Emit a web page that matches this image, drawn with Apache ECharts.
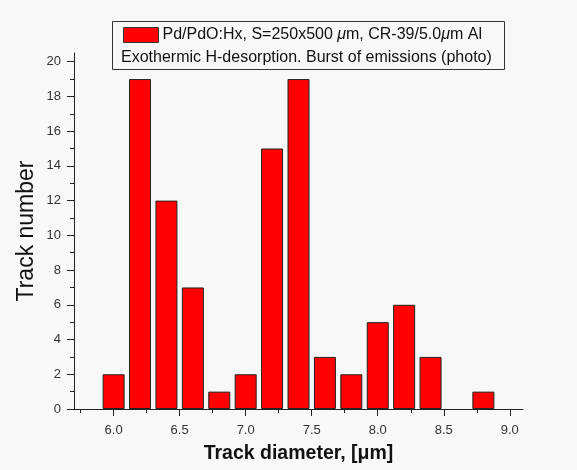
<!DOCTYPE html>
<html>
<head>
<meta charset="utf-8">
<script src="https://cdn.jsdelivr.net/npm/echarts@6/dist/echarts.min.js"></script>
<style>
html,body{margin:0;padding:0;background:#f8f8f8;}
#c{width:577px;height:470px;}
</style>
</head>
<body>
<div id="c"></div>
<script>
const diameters = [6.0, 6.2, 6.4, 6.6, 6.8, 7.0, 7.2, 7.4, 7.6, 7.8, 8.0, 8.2, 8.4, 8.6, 8.8];
const counts = [2, 19, 12, 7, 1, 2, 15, 19, 3, 2, 5, 6, 3, 0, 1];
const xMajorTicks = [6.0, 6.5, 7.0, 7.5, 8.0, 8.5, 9.0];
const xMinorTicks = [5.75, 6.25, 6.75, 7.25, 7.75, 8.25, 8.75];
const yMajorTicks = [0, 2, 4, 6, 8, 10, 12, 14, 16, 18, 20];
const yMinorTicks = [1, 3, 5, 7, 9, 11, 13, 15, 17, 19];
const seriesName = 'Pd/PdO:Hx, S=250x500 μm, CR-39/5.0μm Al';
const subtitle = 'Exothermic H-desorption. Burst of emissions (photo)';

const chart = echarts.init(document.getElementById('c'), null, {renderer: 'canvas'});
const font = 'Liberation Sans, Arial, sans-serif';
const axisColor = '#222';
const grid = {left: 74, top: 53, width: 449, height: 356};

const xMin = 5.7, xMax = 9.1, yMin = 0, yMax = 20.5;

chart.setOption({
  backgroundColor: '#f8f8f8',
  animation: false,
  grid: grid,
  legend: {
    left: 118, top: 22,
    itemWidth: 35, itemHeight: 15, itemGap: 0,
    formatter: n => n.replace(/μ/g, '{i|μ}'),
    textStyle: {fontFamily: font, fontSize: 16, color: '#111', padding: [0, 0, 0, -1],
      rich: {i: {fontFamily: font, fontSize: 16, fontStyle: 'italic', color: '#111'}}},
    data: [{name: seriesName, icon: 'rect'}],
    itemStyle: {borderColor: '#333', borderWidth: 1}
  },
  graphic: [
    {type: 'rect', shape: {x: 112.5, y: 21.5, width: 392, height: 48}, style: {fill: 'none', stroke: '#333', lineWidth: 1}, z: 10},
    {type: 'text', x: 121, y: 58, style: {text: subtitle, fontFamily: font, fontSize: 16, fill: '#111', verticalAlign: 'middle'}, z: 10}
  ],
  xAxis: [{
    type: 'value', min: xMin, max: xMax,
    name: 'Track diameter, [μm]', nameLocation: 'middle', nameGap: 35, nameMoveOverlap: false,
    nameTextStyle: {fontFamily: font, fontSize: 19.5, fontWeight: 'bold', color: '#111', verticalAlign: 'top'},
    axisLine: {show: true, lineStyle: {color: axisColor, width: 1}},
    axisTick: {show: true, length: 7, customValues: xMajorTicks, lineStyle: {color: axisColor}},
    axisLabel: {customValues: xMajorTicks, formatter: v => v.toFixed(1), fontFamily: font, fontSize: 13, color: '#333', margin: 15},
    splitLine: {show: false}
  }, {
    type: 'value', min: xMin, max: xMax, position: 'bottom',
    axisLine: {show: false},
    axisTick: {show: true, length: 4, customValues: xMinorTicks, lineStyle: {color: axisColor}},
    axisLabel: {show: false},
    splitLine: {show: false}
  }],
  yAxis: [{
    type: 'value', min: yMin, max: yMax,
    name: 'Track number', nameLocation: 'middle', nameGap: 36, nameRotate: 90, nameMoveOverlap: false,
    nameTextStyle: {fontFamily: font, fontSize: 23, color: '#111'},
    axisLine: {show: true, lineStyle: {color: axisColor, width: 1}},
    axisTick: {show: true, length: 7, customValues: yMajorTicks, lineStyle: {color: axisColor}},
    axisLabel: {customValues: yMajorTicks, fontFamily: font, fontSize: 13, color: '#333', margin: 13},
    splitLine: {show: false}
  }, {
    type: 'value', min: yMin, max: yMax, position: 'left',
    axisLine: {show: false},
    axisTick: {show: true, length: 4, customValues: yMinorTicks, lineStyle: {color: axisColor}},
    axisLabel: {show: false},
    splitLine: {show: false}
  }],
  series: [{
    name: seriesName,
    type: 'bar',
    barWidth: 22,
    data: diameters.map((d, i) => counts[i] === 0
      ? {value: [d, counts[i]], itemStyle: {borderWidth: 0}}
      : [d, counts[i]]),
    itemStyle: {color: '#ff0000', borderColor: '#222', borderWidth: 1},
    z: 3
  }]
});
</script>
</body>
</html>
